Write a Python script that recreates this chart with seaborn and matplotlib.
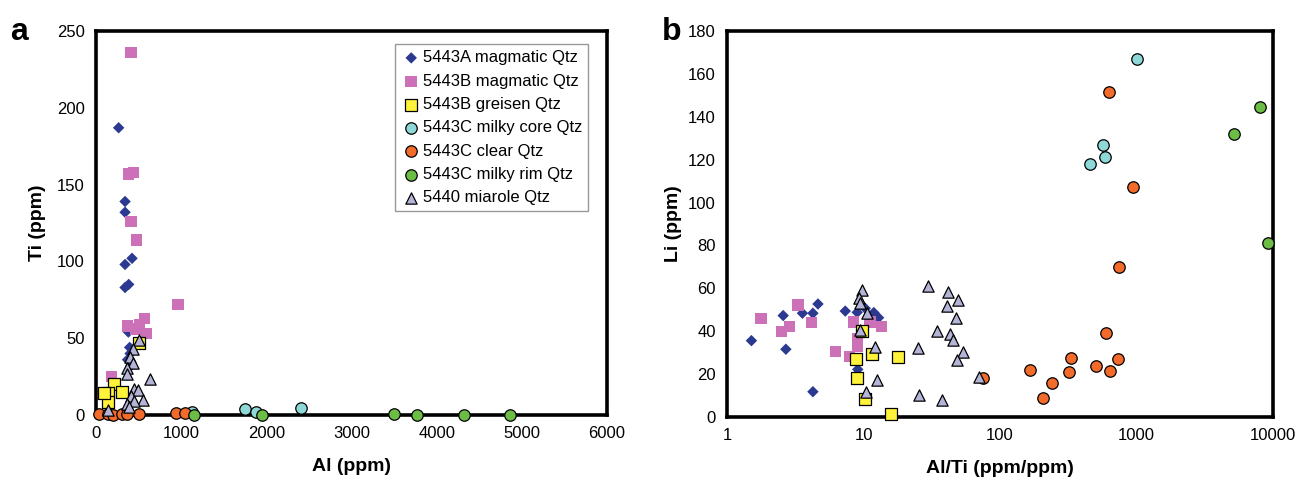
import numpy as np
import pandas as pd
import seaborn as sns
import matplotlib.pyplot as plt
from matplotlib.ticker import FixedLocator, FixedFormatter, NullLocator

# ---- panel a: Ti vs Al (ppm) ----
a_5443A_al = [266, 341, 341, 423, 341, 384, 341, 380, 395, 400, 370, 410]
a_5443A_ti = [187, 139, 132, 102, 98, 85, 83, 54, 44, 40, 36, 32]
a_5443B_mag_al = [412, 384, 439, 412, 474, 964, 568, 372, 509, 470, 595, 180]
a_5443B_mag_ti = [236, 157, 158, 126, 114, 72, 63, 58, 59, 56, 53, 25]
a_5443B_gr_al = [501, 215, 301, 136, 145, 98]
a_5443B_gr_ti = [47, 20, 15, 14.5, 8.7, 14]
a_5443C_core_al = [1129, 1745, 1874, 2404]
a_5443C_core_ti = [2, 4, 2, 4.5]
a_5443C_clear_al = [40, 140, 195, 300, 360, 500, 940, 1050]
a_5443C_clear_ti = [0.5, 0.5, 0.3, 0.5, 0.5, 0.5, 1.2, 1.0]
a_5443C_rim_al = [1145, 1950, 3500, 3770, 4320, 4860]
a_5443C_rim_ti = [0.3, 0.2, 0.6, 0.3, 0.3, 0.3]
a_5440_al = [501, 431, 400, 439, 364, 360, 635, 443, 498, 412, 548, 451, 360, 384, 136]
a_5440_ti = [49, 43, 38, 34, 30.5, 27, 23.5, 17, 16, 12.4, 9.8, 9.3, 7.2, 5, 3.3]

# ---- panel b: Li vs Al/Ti ----
b_5443A_r = [1.51, 2.58, 2.70, 3.57, 4.26, 4.64, 4.26, 7.35, 8.99, 10.3, 11.9, 12.9, 9.07]
b_5443A_li = [35.6, 47.3, 31.6, 48.4, 48.4, 52.7, 11.8, 49.4, 48.8, 50.7, 48.7, 46.3, 22.2]
b_5443B_mag_r = [1.77, 2.51, 2.88, 3.32, 4.15, 6.25, 7.90, 8.45, 9.07, 9.07, 11.2, 13.5]
b_5443B_mag_li = [46.0, 39.8, 42.1, 52.2, 44.0, 30.5, 28.1, 44.2, 36.7, 32.8, 44.2, 42.1]
b_5443B_gr_r = [9.78, 8.84, 11.6, 17.8, 8.99, 10.2, 15.9]
b_5443B_gr_li = [40.1, 26.9, 29.4, 27.8, 18.2, 8.2, 1.4]
b_5443C_core_r = [1017, 565, 591, 459]
b_5443C_core_li = [166.8, 126.7, 121.1, 117.9]
b_5443C_clear_r = [75.2, 625, 950, 739, 601, 333, 726, 166, 508, 643, 321, 241, 207]
b_5443C_clear_li = [18.3, 151.6, 107.4, 70.1, 39.3, 27.7, 27.1, 21.9, 23.8, 21.6, 20.8, 15.7, 8.7]
b_5443C_rim_r = [8070, 5160, 9200]
b_5443C_rim_li = [144.4, 131.9, 81.3]
b_5440_r = [9.78, 9.2, 9.36, 10.6, 9.46, 12.2, 12.5, 10.5, 24.9, 25.6, 29.5, 34.5, 37.9,
            41.5, 41.2, 43.2, 45.6, 49.6, 47.5, 53.7, 48.8, 70.3]
b_5440_li = [59.2, 55.3, 53.3, 48.4, 40.6, 32.8, 17.3, 11.8, 32.0, 10.3, 61.2, 40.1, 7.9,
             58.2, 51.8, 38.6, 35.9, 54.6, 46.0, 30.5, 26.6, 18.8]

labels = ["5443A magmatic Qtz", "5443B magmatic Qtz", "5443B greisen Qtz",
          "5443C milky core Qtz", "5443C clear Qtz", "5443C milky rim Qtz",
          "5440 miarole Qtz"]

styles = {
    "5443A magmatic Qtz": dict(marker="D", color="#2B3990", edgecolor="none", s=34),
    "5443B magmatic Qtz": dict(marker="s", color="#CC70B8", edgecolor="none", s=68),
    "5443B greisen Qtz": dict(marker="s", color="#FFF23A", edgecolor="black", s=66),
    "5443C milky core Qtz": dict(marker="o", color="#8ED8D8", edgecolor="black", s=68),
    "5443C clear Qtz": dict(marker="o", color="#F26B2A", edgecolor="black", s=68),
    "5443C milky rim Qtz": dict(marker="o", color="#6BBD45", edgecolor="black", s=68),
    "5440 miarole Qtz": dict(marker="^", color="#B4B4D8", edgecolor="black", s=66),
}

panel_a = [
    (a_5443A_al, a_5443A_ti), (a_5443B_mag_al, a_5443B_mag_ti),
    (a_5443B_gr_al, a_5443B_gr_ti), (a_5443C_core_al, a_5443C_core_ti),
    (a_5443C_clear_al, a_5443C_clear_ti), (a_5443C_rim_al, a_5443C_rim_ti),
    (a_5440_al, a_5440_ti),
]
panel_b = [
    (b_5443A_r, b_5443A_li), (b_5443B_mag_r, b_5443B_mag_li),
    (b_5443B_gr_r, b_5443B_gr_li), (b_5443C_core_r, b_5443C_core_li),
    (b_5443C_clear_r, b_5443C_clear_li), (b_5443C_rim_r, b_5443C_rim_li),
    (b_5440_r, b_5440_li),
]


def make_frame(series):
    frames = []
    for lab, (x, y) in zip(labels, series):
        frames.append(pd.DataFrame({"x": x, "y": y, "group": lab}))
    return pd.concat(frames, ignore_index=True)


def draw(ax, data):
    for lab in labels:
        st = styles[lab]
        d = data[data["group"] == lab]
        sns.scatterplot(
            data=d, x="x", y="y", ax=ax, marker=st["marker"], color=st["color"],
            edgecolor=st["edgecolor"], linewidth=0.9, s=st["s"], label=lab,
            clip_on=False, zorder=3,
        )


def style_axes(ax):
    for sp in ax.spines.values():
        sp.set_visible(True)
        sp.set_linewidth(2.6)
        sp.set_color("black")
    ax.tick_params(axis="both", which="major", direction="out", length=5,
                   width=2.4, labelsize=12, pad=3, colors="black")
    ax.tick_params(which="minor", length=0)


sns.set_style("white")
plt.rcParams["font.family"] = ["Liberation Sans", "DejaVu Sans"]
plt.rcParams["text.color"] = "black"
plt.rcParams["axes.labelcolor"] = "black"

fig = plt.figure(figsize=(13, 4.84), dpi=100)
ax_a = fig.add_axes([96 / 1300, 69 / 484, 511 / 1300, 384 / 484])
ax_b = fig.add_axes([727 / 1300, 67 / 484, 546 / 1300, 386 / 484])

da = make_frame(panel_a)
db = make_frame(panel_b)

draw(ax_a, da)
draw(ax_b, db)

# panel a
ax_a.set_xlim(0, 6000)
ax_a.set_ylim(0, 250)
ax_a.set_xticks(np.arange(0, 6001, 1000))
ax_a.set_yticks(np.arange(0, 251, 50))
ax_a.set_xlabel("Al (ppm)", fontsize=14, fontweight="bold", labelpad=12)
ax_a.set_ylabel("Ti (ppm)", fontsize=14, fontweight="bold", labelpad=8)
style_axes(ax_a)
leg = ax_a.legend(loc="upper right", bbox_to_anchor=(0.963, 0.965), fontsize=12,
                  frameon=True, fancybox=False, edgecolor="#808080",
                  handletextpad=0.05, handlelength=1.3, labelspacing=0.5,
                  borderpad=0.35, borderaxespad=0)
leg.get_frame().set_linewidth(1.0)
for t in leg.get_texts():
    t.set_color("black")

# panel b
ax_b.set_xscale("log")
ax_b.set_xlim(1, 10000)
ax_b.set_ylim(0, 180)
ax_b.xaxis.set_major_locator(FixedLocator([1, 10, 100, 1000, 10000]))
ax_b.xaxis.set_major_formatter(FixedFormatter(["1", "10", "100", "1000", "10000"]))
ax_b.xaxis.set_minor_locator(NullLocator())
ax_b.set_yticks(np.arange(0, 181, 20))
ax_b.set_xlabel("Al/Ti (ppm/ppm)", fontsize=14, fontweight="bold", labelpad=12)
ax_b.set_ylabel("Li (ppm)", fontsize=14, fontweight="bold", labelpad=4)
style_axes(ax_b)
ax_b.get_legend().remove()

fig.text(10 / 1300, 1 - 40 / 484, "a", fontsize=23, fontweight="bold")
fig.text(662 / 1300, 1 - 40 / 484, "b", fontsize=23, fontweight="bold")

fig.savefig("out.png", dpi=100)
